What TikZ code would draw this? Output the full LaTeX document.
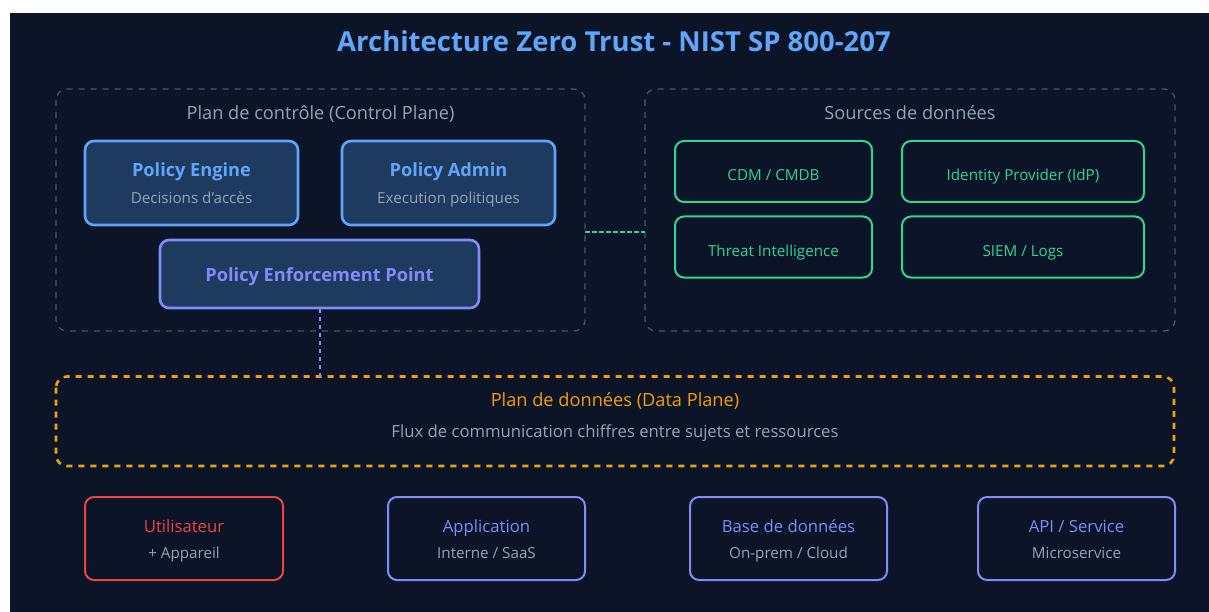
\documentclass[tikz,border=0pt]{standalone}
\usepackage{fontspec}
\setmainfont{Open Sans}
\usetikzlibrary{positioning}

\definecolor{bgdark}{HTML}{0B1527}
\definecolor{titleblue}{HTML}{60A5FA}
\definecolor{boxfill}{HTML}{1E3A5F}
\definecolor{indigo}{HTML}{818CF8}
\definecolor{muted}{HTML}{94A3B8}
\definecolor{frame}{HTML}{475569}
\definecolor{mint}{HTML}{34D399}
\definecolor{alert}{HTML}{EF4444}
\definecolor{amber}{HTML}{F59E0B}

\tikzset{
  group/.style={draw=frame, line width=1.2pt, dash pattern=on 6pt off 6pt, rounded corners=11pt},
  policy/.style={draw=#1, fill=boxfill, line width=2.6pt, rounded corners=9pt},
  source/.style={draw=mint, line width=2pt, rounded corners=9pt},
  actor/.style={draw=#1, line width=2pt, rounded corners=9pt},
  txt/.style={anchor=base, inner sep=0pt, font=\fontsize{#1}{#1}\selectfont},
  btxt/.style={anchor=base, inner sep=0pt, font=\bfseries\fontsize{#1}{#1}\selectfont},
}

\begin{document}
\begin{tikzpicture}[x=1pt, y=-1pt]
  % canvas
  \useasboundingbox (0,0) rectangle (1209,612);
  \fill[white] (0,0) rectangle (1209,612);
  \fill[bgdark] (10,13) rectangle (1209,612);

  % title
  \node[btxt=27.5, text=titleblue] (title) at (614,51.5) {Architecture Zero Trust - NIST SP 800-207};

  % control plane group
  \draw[group] (56,89) rectangle (585,331);
  \node[txt=18.2, text=muted] (cplabel) at (320.5,119.5) {Plan de contrôle (Control Plane)};
  \coordinate (cpright) at (585,232);

  \node[policy=titleblue, minimum width=213pt, minimum height=84pt, inner sep=0pt] (pe) at (191.5,183) {};
  \node[btxt=18.2, text=titleblue] (pet) at (191.5,176.5) {Policy Engine};
  \node[txt=15.2, text=muted] (pes) at (191.5,203.5) {Decisions d\char"27 accès};

  \node[policy=titleblue, minimum width=213pt, minimum height=84pt, inner sep=0pt] (pa) at (448.5,183) {};
  \node[btxt=18.2, text=titleblue] (pat) at (448.5,176.5) {Policy Admin};
  \node[txt=15.2, text=muted] (pas) at (448.5,203.5) {Execution politiques};

  \node[policy=indigo, minimum width=319pt, minimum height=68pt, inner sep=0pt] (pep) at (319.5,274) {};
  \node[btxt=18.2, text=indigo] (pept) at (319.5,281.5) {Policy Enforcement Point};

  % data sources group
  \draw[group] (645,89) rectangle (1175,331);
  \node[txt=18.2, text=muted] (dslabel) at (910,119.5) {Sources de données};
  \coordinate (dsleft) at (645,232);

  \node[source, minimum width=197pt, minimum height=61pt, inner sep=0pt] (cdm) at (773.5,171.5) {};
  \node[txt=15.2, text=mint] (cdmt) at (773.5,181) {CDM / CMDB};
  \node[source, minimum width=242pt, minimum height=61pt, inner sep=0pt] (idp) at (1023,171.5) {};
  \node[txt=15.2, text=mint] (idpt) at (1023,181) {Identity Provider (IdP)};
  \node[source, minimum width=197pt, minimum height=61pt, inner sep=0pt] (ti) at (773.5,247) {};
  \node[txt=15.2, text=mint] (tit) at (773.5,256) {Threat Intelligence};
  \node[source, minimum width=242pt, minimum height=61pt, inner sep=0pt] (siem) at (1023,247) {};
  \node[txt=15.2, text=mint] (siemt) at (1023,256) {SIEM / Logs};

  % link between the two groups
  \draw[mint, line width=2pt, dash pattern=on 4.5pt off 2.5pt] (cpright) -- (dsleft);

  % data plane
  \draw[amber, line width=2.6pt, dash pattern=on 6pt off 6pt, rounded corners=11pt] (56,376.5) rectangle (1174,466);
  \coordinate (dptop) at (320,376.5);
  \node[txt=18.2, text=amber] (dpt) at (615,406.5) {Plan de données (Data Plane)};
  \node[txt=16.7, text=muted] (dps) at (615,437) {Flux de communication chiffres entre sujets et ressources};

  % PEP down to the data plane
  \draw[indigo, line width=2pt, dash pattern=on 4pt off 4pt] (pep.south -| dptop) -- (dptop);

  % subjects and resources
  \node[actor=alert, minimum width=198pt, minimum height=83pt, inner sep=0pt] (usr) at (184,538.5) {};
  \node[txt=16.7, text=alert] (usrt) at (184,532.5) {Utilisateur};
  \node[txt=15.2, text=muted] (usrs) at (184,558) {+ Appareil};

  \node[actor=indigo, minimum width=197pt, minimum height=83pt, inner sep=0pt] (app) at (486.5,538.5) {};
  \node[txt=16.7, text=indigo] (appt) at (486.5,532.5) {Application};
  \node[txt=15.2, text=muted] (apps) at (486.5,558) {Interne / SaaS};

  \node[actor=indigo, minimum width=197pt, minimum height=83pt, inner sep=0pt] (db) at (788.5,538.5) {};
  \node[txt=16.7, text=indigo] (dbt) at (788.5,532.5) {Base de données};
  \node[txt=15.2, text=muted] (dbs) at (788.5,558) {On-prem / Cloud};

  \node[actor=indigo, minimum width=197pt, minimum height=83pt, inner sep=0pt] (api) at (1076.5,538.5) {};
  \node[txt=16.7, text=indigo] (apit) at (1076.5,532.5) {API / Service};
  \node[txt=15.2, text=muted] (apis) at (1076.5,558) {Microservice};
\end{tikzpicture}
\end{document}
